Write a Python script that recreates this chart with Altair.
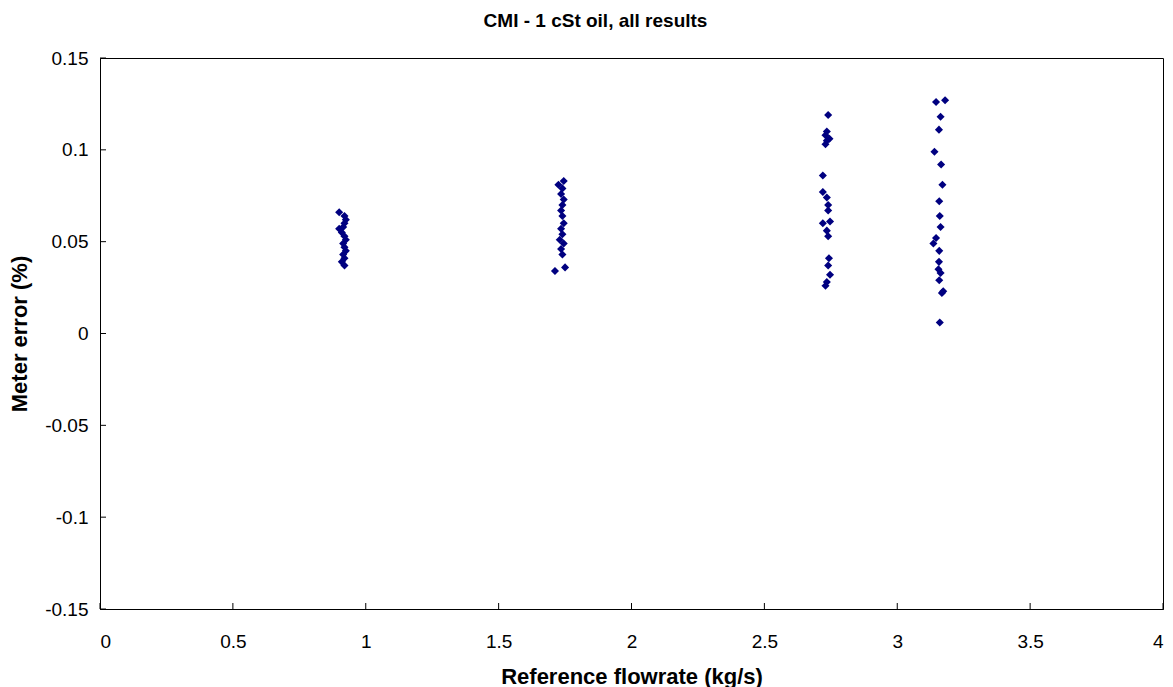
import altair as alt
import pandas as pd

# Reference flowrate (kg/s) and meter error (%) for each flowrate group
flow_1 = [0.90, 0.92, 0.925, 0.92, 0.915, 0.90, 0.91, 0.92, 0.925, 0.915, 0.92, 0.925, 0.915, 0.92, 0.91, 0.92]
err_1 = [0.066, 0.064, 0.062, 0.060, 0.058, 0.057, 0.055, 0.053, 0.051, 0.049, 0.047, 0.045, 0.043, 0.041, 0.039, 0.037]

flow_2 = [1.745, 1.725, 1.74, 1.735, 1.745, 1.74, 1.735, 1.74, 1.745, 1.735, 1.74, 1.73, 1.745, 1.735, 1.74, 1.75, 1.712]
err_2 = [0.083, 0.081, 0.079, 0.076, 0.073, 0.070, 0.067, 0.064, 0.060, 0.057, 0.054, 0.051, 0.049, 0.046, 0.043, 0.036, 0.034]

flow_3 = [2.74, 2.735, 2.73, 2.745, 2.735, 2.73, 2.72, 2.72, 2.735, 2.74, 2.74, 2.72, 2.747, 2.735, 2.74, 2.743, 2.74, 2.747, 2.735, 2.73]
err_3 = [0.119, 0.110, 0.108, 0.106, 0.105, 0.103, 0.086, 0.077, 0.074, 0.070, 0.067, 0.060, 0.061, 0.056, 0.053, 0.041, 0.037, 0.032, 0.028, 0.026]

flow_4 = [3.146, 3.18, 3.163, 3.157, 3.14, 3.165, 3.17, 3.158, 3.16, 3.163, 3.146, 3.136, 3.158, 3.157, 3.155, 3.163, 3.158, 3.173, 3.168, 3.16]
err_4 = [0.126, 0.127, 0.118, 0.111, 0.099, 0.092, 0.081, 0.072, 0.064, 0.058, 0.052, 0.049, 0.045, 0.039, 0.035, 0.033, 0.029, 0.023, 0.022, 0.006]

x_ticks = [0, 0.5, 1, 1.5, 2, 2.5, 3, 3.5, 4]
y_ticks = [-0.15, -0.1, -0.05, 0, 0.05, 0.1, 0.15]

W, H = 1063, 551
FONT = "Liberation Sans"

df = pd.DataFrame({
    "flow": flow_1 + flow_2 + flow_3 + flow_4,
    "err": err_1 + err_2 + err_3 + err_4,
})

xscale = alt.Scale(domain=[0, 4], nice=False, zero=False)
yscale = alt.Scale(domain=[-0.15, 0.15], nice=False, zero=False)

points = alt.Chart(df).mark_point(
    shape="diamond", filled=True, color="#000080", size=65, opacity=1
).encode(
    x=alt.X("flow:Q", scale=xscale,
            axis=alt.Axis(values=x_ticks, title="Reference flowrate  (kg/s)",
                          labelExpr="'' + datum.value", ticks=False, grid=False,
                          domainColor="black", labelFontSize=19, labelColor="black",
                          labelFont=FONT, labelPadding=23, titleFont=FONT,
                          titleFontSize=22, titleFontWeight="bold", titleColor="black",
                          titlePadding=15)),
    y=alt.Y("err:Q", scale=yscale,
            axis=alt.Axis(values=y_ticks, title="Meter error (%)",
                          labelExpr="'' + datum.value", ticks=False, grid=False,
                          domainColor="black", labelFontSize=19, labelColor="black",
                          labelFont=FONT, labelPadding=12, titleFont=FONT,
                          titleFontSize=22, titleFontWeight="bold", titleColor="black",
                          titlePadding=13)),
)

xt = pd.DataFrame({"v": x_ticks})
yt = pd.DataFrame({"v": y_ticks})

xtick_layer = alt.Chart(xt).mark_rule(color="black", strokeWidth=1).encode(
    x=alt.X("v:Q", scale=xscale),
    y=alt.value(H - 6), y2=alt.value(H),
)
ytick_layer = alt.Chart(yt).mark_rule(color="black", strokeWidth=1).encode(
    y=alt.Y("v:Q", scale=yscale),
    x=alt.value(0), x2=alt.value(6),
)

chart = alt.layer(points, xtick_layer, ytick_layer).properties(
    width=W, height=H,
    background="white",
    title=alt.TitleParams("CMI - 1 cSt oil, all results", font=FONT, fontSize=19,
                          fontWeight="bold", color="black", anchor="middle",
                          dx=-36, offset=18),
    autosize=alt.AutoSizeParams(type="none"),
    padding={"left": 92, "top": 50, "right": 2, "bottom": 80},
).configure_view(stroke="black", strokeWidth=1)

chart.save("out.html", embed_options={"renderer": "svg", "actions": False})
